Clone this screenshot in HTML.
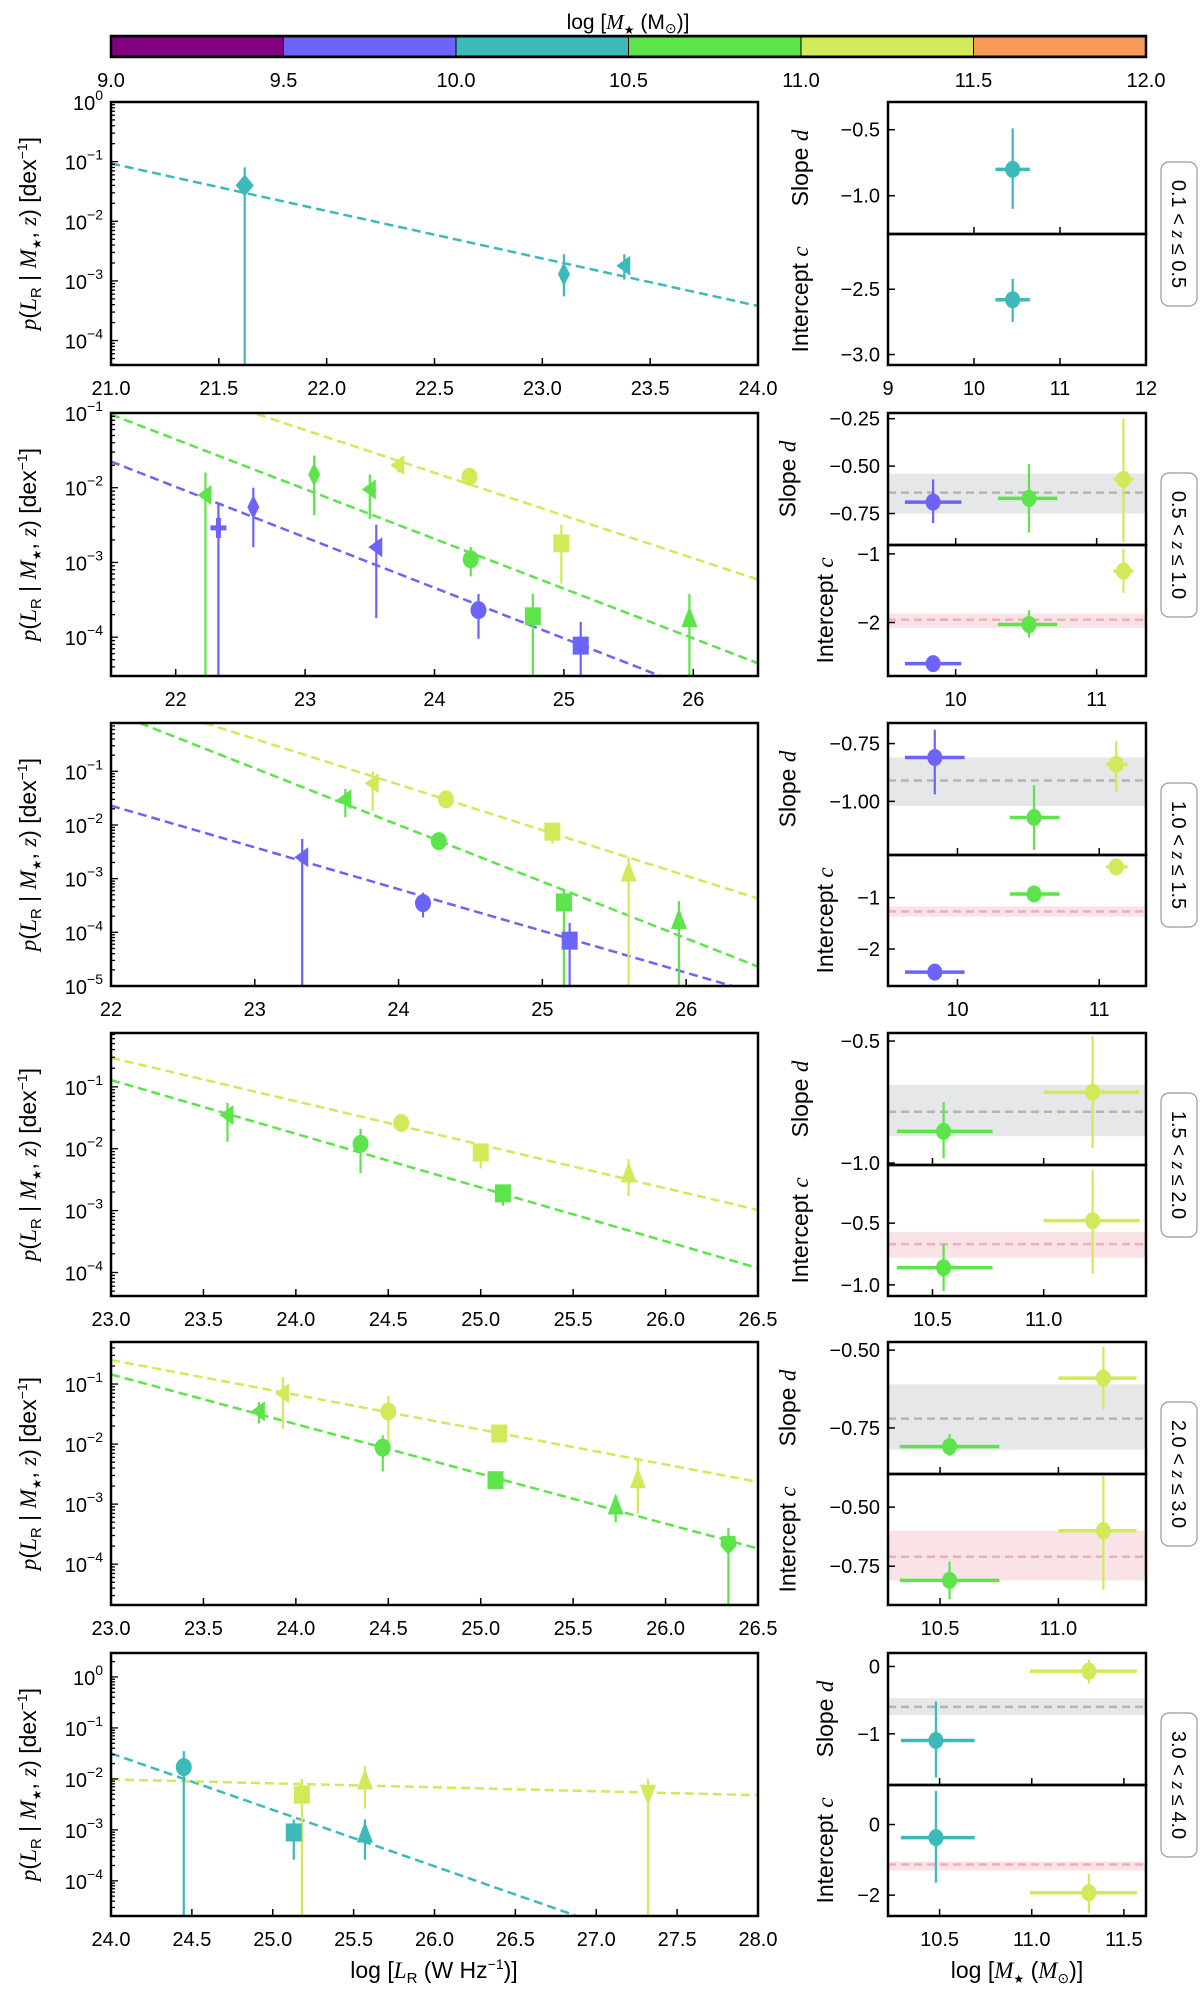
<!DOCTYPE html>
<html><head><meta charset="utf-8"><style>
html,body{margin:0;padding:0;background:#fff;}
svg{display:block;font-family:"Liberation Sans",sans-serif;}
</style></head><body>
<svg id="fig" width="1200" height="2002" viewBox="0 0 1200 2002" xmlns="http://www.w3.org/2000/svg"></svg>
<script>
// ---- mass bins ----
const binEdges = [9.0, 9.5, 10.0, 10.5, 11.0, 11.5, 12.0];
const binColors = ["#800080", "#6c63f8", "#3cb9b9", "#5ce44a", "#d0ea5a", "#f79a5c"];
const zLabels = ["0.1", "0.5", "1.0", "1.5", "2.0", "3.0", "4.0"];

// ---- left panels: points (p values, dex^-1) ----
const ptLR = [
 [21.62, 23.10, 23.38],
 [22.23, 22.33, 22.60, 23.07, 23.50, 23.72, 23.55, 24.27, 24.28, 24.34, 24.98, 24.76, 25.13, 25.97],
 [23.63, 23.82, 24.33, 24.28, 25.07, 23.33, 24.17, 25.15, 25.19, 25.60, 25.95],
 [23.63, 24.35, 24.57, 25.00, 25.12, 25.80],
 [23.80, 23.93, 24.50, 24.47, 25.10, 25.08, 25.73, 25.85, 26.34],
 [24.45, 25.18, 25.13, 25.57, 25.57, 27.32]
];
const ptP = [
 [0.04, 1.3e-3, 1.8e-3],
 [8e-3, 2.9e-3, 5.5e-3, 1.5e-2, 9.5e-3, 2e-2, 1.6e-3, 1.4e-2, 1.1e-3, 2.3e-4, 1.8e-3, 1.9e-4, 7.7e-5, 1.8e-4],
 [0.03, 0.06, 0.03, 5e-3, 7.5e-3, 2.5e-3, 3.5e-4, 3.6e-4, 7e-5, 1.3e-3, 1.7e-4],
 [0.035, 0.012, 0.026, 8.7e-3, 1.9e-3, 4e-3],
 [0.035, 0.07, 0.035, 8.7e-3, 0.015, 2.5e-3, 9.5e-4, 2.6e-3, 2.1e-4],
 [0.017, 4.9e-3, 8.9e-4, 9.3e-3, 8.5e-4, 5.1e-3]
];
const ptHi = [
 [0.08, 2.8e-3, 2.8e-3],
 [1.6e-2, 6e-3, 1e-2, 2.7e-2, 1.5e-2, 2.3e-2, 3.2e-3, 1.6e-2, 1.6e-3, 3.8e-4, 3.2e-3, 3.8e-4, 1.6e-4, 3.8e-4],
 [0.047, 0.1, 0.035, 6e-3, 1e-2, 5.5e-3, 5.5e-4, 6e-4, 1.5e-4, 2.5e-3, 3.8e-4],
 [0.055, 0.021, 0.03, 9.5e-3, 2.1e-3, 6.8e-3],
 [0.05, 0.13, 0.063, 0.014, 0.017, 2.8e-3, 1.4e-3, 6e-3, 4e-4],
 [0.035, 0.01, 1.6e-3, 0.018, 1.6e-3, 0.01]
];
const ptLo = [
 [1e-9, 5.5e-4, 1.05e-3],
 [1e-9, 1e-9, 1.6e-3, 4.3e-3, 3.8e-3, 1.6e-2, 1.8e-4, 1.2e-2, 6.5e-4, 9.5e-5, 5.2e-4, 1e-9, 1e-9, 1e-9],
 [0.014, 0.018, 0.025, 4.5e-3, 4.5e-3, 1e-9, 1.9e-4, 1e-9, 1e-9, 1e-9, 1e-9],
 [0.013, 0.004, 0.022, 4.8e-3, 1.2e-3, 1.7e-3],
 [0.022, 0.018, 0.011, 3.5e-3, 0.011, 1.8e-3, 5e-4, 7e-4, 1e-9],
 [1e-9, 1e-9, 2.6e-4, 2.6e-3, 2.6e-4, 1e-9]
];
const ptBin = [
 [2, 2, 2],
 [3, 1, 1, 3, 3, 4, 1, 4, 3, 1, 4, 3, 1, 3],
 [3, 4, 4, 3, 4, 1, 1, 3, 1, 4, 3],
 [3, 3, 4, 4, 3, 4],
 [3, 4, 4, 3, 4, 3, 3, 4, 3],
 [2, 4, 2, 4, 2, 4]
];
const ptShape = [
 ["diamond", "thin", "left"],
 ["left", "plus", "thin", "thin", "left", "left", "left", "circle", "circle", "circle", "square", "square", "square", "up"],
 ["left", "left", "circle", "circle", "square", "left", "circle", "square", "square", "up", "up"],
 ["left", "circle", "circle", "square", "square", "up"],
 ["left", "left", "circle", "circle", "square", "square", "up", "up", "pent"],
 ["circle", "square", "square", "up", "up", "down"]
];
// fit lines: start/end (LR, log p)
const fitStartLR = [[21], [21.5, 21.5, 21.5], [22.65, 22.2, 22], [23, 23], [23, 23], [24, 24]];
const fitStartLogP = [[-1.03], [-0.37, -1.02, -1.65], [-0.10, -0.10, -1.64], [-0.53, -0.89], [-0.60, -0.84], [-1.5, -2.01]];
const fitEndLR = [[24], [26.5, 26.5, 26.5], [26.5, 26.5, 26.5], [26.5, 26.5], [26.5, 26.5], [28, 28]];
const fitEndLogP = [[-3.42], [-3.23, -4.35, -5.03], [-3.37, -4.64, -5.14], [-2.99, -3.93], [-2.63, -3.74], [-5.93, -2.32]];
const fitBin = [[2], [4, 3, 1], [4, 3, 1], [4, 3], [4, 3], [2, 4]];

// ---- left axes ----
const lrRange = [[21, 24], [21.5, 26.5], [22, 26.5], [23, 26.5], [23, 26.5], [24, 28]];
const logPRange = [[-4.41, 0], [-4.52, -1], [-5, -0.1], [-4.38, -0.13], [-4.68, -0.30], [-4.69, 0.47]];
const lrTicks = [
 ["21.0", "21.5", "22.0", "22.5", "23.0", "23.5", "24.0"],
 ["22", "23", "24", "25", "26"],
 ["22", "23", "24", "25", "26"],
 ["23.0", "23.5", "24.0", "24.5", "25.0", "25.5", "26.0", "26.5"],
 ["23.0", "23.5", "24.0", "24.5", "25.0", "25.5", "26.0", "26.5"],
 ["24.0", "24.5", "25.0", "25.5", "26.0", "26.5", "27.0", "27.5", "28.0"]
];

// ---- right panels ----
const mStar = [[10.45], [9.84, 10.52, 11.19], [9.84, 10.54, 11.12], [10.55, 11.22], [10.54, 11.19], [10.48, 11.31]];
const mStarLo = [[10.25], [9.64, 10.30, 11.12], [9.63, 10.37, 11.05], [10.34, 11.0], [10.33, 11.0], [10.29, 10.99]];
const mStarHi = [[10.65], [10.04, 10.72, 11.26], [10.05, 10.72, 11.20], [10.77, 11.43], [10.75, 11.33], [10.69, 11.57]];
const mBin = [[2], [1, 3, 4], [1, 3, 4], [3, 4], [3, 4], [2, 4]];
const slopeD = [[-0.80], [-0.69, -0.67, -0.57], [-0.81, -1.07, -0.84], [-0.87, -0.71], [-0.81, -0.59], [-1.10, -0.07]];
const slopeHi = [[-0.49], [-0.57, -0.49, -0.25], [-0.69, -0.93, -0.74], [-0.75, -0.48], [-0.77, -0.49], [-0.52, 0.10]];
const slopeLo = [[-1.10], [-0.80, -0.85, -0.90], [-0.97, -1.21, -0.96], [-0.98, -0.94], [-0.84, -0.69], [-1.65, -0.25]];
const icptC = [[-2.58], [-2.60, -2.03, -1.25], [-2.45, -0.93, -0.40], [-0.86, -0.48], [-0.81, -0.60], [-0.37, -1.93]];
const icptHi = [[-2.42], [-2.52, -1.82, -0.93], [-2.35, -0.80, -0.30], [-0.67, -0.07], [-0.73, -0.36], [0.95, -1.40]];
const icptLo = [[-2.75], [-2.68, -2.22, -1.57], [-2.55, -1.05, -0.50], [-1.05, -0.91], [-0.89, -0.85], [-1.65, -2.50]];
const slopeBand = [null, [-0.75, -0.64, -0.54], [-1.02, -0.91, -0.81], [-0.89, -0.79, -0.68], [-0.82, -0.72, -0.61], [-0.72, -0.60, -0.47]];
const icptBand = [null, [-2.08, -1.96, -1.87], [-1.37, -1.27, -1.17], [-0.78, -0.67, -0.57], [-0.81, -0.71, -0.60], [-1.30, -1.13, -1.05]];
const mRange = [[9, 12], [9.52, 11.35], [9.51, 11.33], [10.3, 11.46], [10.28, 11.37], [10.22, 11.62]];
const mTicks = [["9", "10", "11", "12"], ["10", "11"], ["10", "11"], ["10.5", "11.0"], ["10.5", "11.0"], ["10.5", "11.0", "11.5"]];
const slopeRange = [[-1.29, -0.29], [-0.916, -0.22], [-1.232, -0.661], [-1.008, -0.467], [-0.898, -0.474], [-1.76, 0.2]];
const slopeTicks = [["−0.5", "−1.0"], ["−0.25", "−0.50", "−0.75"], ["−0.75", "−1.00"], ["−0.5", "−1.0"], ["−0.50", "−0.75"], ["0", "−1"]];
const icptRange = [[-3.08, -2.077], [-2.78, -0.87], [-2.72, -0.17], [-1.09, -0.029], [-0.914, -0.36], [-2.59, 1.12]];
const icptTicks = [["−2.5", "−3.0"], ["−1", "−2"], ["−1", "−2"], ["−0.5", "−1.0"], ["−0.50", "−0.75"], ["0", "−2"]];

// ---- layout ----
const svg = document.getElementById('fig');
const NS = "http://www.w3.org/2000/svg";
const rowTop = [102, 413, 723, 1033, 1342, 1653];
const PH = 263, LX0 = 111, LX1 = 758, RX0 = 888, RX1 = 1146;
const STAR = '<tspan font-family="DejaVu Sans" font-size="12" dy="5">★</tspan>';

function mk(tag, attrs, parent) {
  const e = document.createElementNS(NS, tag);
  for (const k in attrs) e.setAttribute(k, attrs[k]);
  (parent || svg).appendChild(e);
  return e;
}
function num(s) { return parseFloat(s.replace('−', '-')); }
function lin(v, d0, d1, p0, p1) { return p0 + (v - d0) / (d1 - d0) * (p1 - p0); }

function marker(g, shape, cx, cy, col) {
  let e;
  const r = 8;
  if (shape === "circle") e = mk('ellipse', {cx: cx, cy: cy, rx: r, ry: r + 1, fill: col}, g);
  else if (shape === "square") e = mk('rect', {x: cx - r, y: cy - r - 1, width: 2 * r, height: 2 * r + 2, fill: col}, g);
  else if (shape === "diamond") e = mk('polygon', {points: `${cx},${cy - 11} ${cx + 9},${cy} ${cx},${cy + 11} ${cx - 9},${cy}`, fill: col}, g);
  else if (shape === "thin") e = mk('polygon', {points: `${cx},${cy - 12} ${cx + 6},${cy} ${cx},${cy + 12} ${cx - 6},${cy}`, fill: col}, g);
  else if (shape === "left") e = mk('polygon', {points: `${cx - 8},${cy} ${cx + 6},${cy - 10} ${cx + 6},${cy + 10}`, fill: col}, g);
  else if (shape === "up") e = mk('polygon', {points: `${cx},${cy - 12} ${cx + 8},${cy + 9} ${cx - 8},${cy + 9}`, fill: col}, g);
  else if (shape === "down") e = mk('polygon', {points: `${cx},${cy + 12} ${cx + 8},${cy - 9} ${cx - 8},${cy - 9}`, fill: col}, g);
  else if (shape === "pent") e = mk('polygon', {points: `${cx},${cy + 10} ${cx + 8},${cy + 1} ${cx + 7},${cy - 9} ${cx - 7},${cy - 9} ${cx - 8},${cy + 1}`, fill: col}, g);
  else { e = mk('path', {d: `M${cx - 8},${cy}H${cx + 8}M${cx},${cy - 10}V${cy + 10}`, stroke: col, 'stroke-width': 5}, g); }
  return e;
}

// ---- colorbar ----
const cb = mk('g', {});


const cbt = mk('text', {x: 628, y: 29, 'text-anchor': 'middle', 'font-size': 21}, cb);
cbt.innerHTML = 'log [<tspan font-family="Liberation Serif" font-style="italic">M</tspan>' + STAR + '<tspan dy="-5"> (M</tspan><tspan font-size="14" dy="4">⊙</tspan><tspan dy="-4">)]</tspan>';


for (let i = 0; i < binColors.length; i++) {
  const x0 = lin(binEdges[i], 9, 12, LX0, RX1), x1 = lin(binEdges[i + 1], 9, 12, LX0, RX1);
  const s = mk('rect', {x: x0, y: 37, width: x1 - x0, height: 19, fill: binColors[i], stroke: '#000', 'stroke-width': 1}, cb);
  
  
}
mk('rect', {x: LX0, y: 36, width: RX1 - LX0, height: 21, fill: 'none', stroke: '#000', 'stroke-width': 2.5}, cb);
for (let i = 0; i < binEdges.length; i++) {
  const t = mk('text', {x: lin(binEdges[i], 9, 12, LX0, RX1), y: 87, 'text-anchor': 'middle', 'font-size': 20}, cb);
  t.textContent = binEdges[i].toFixed(1);
  
  
}

// ---- rows ----
for (let r = 0; r < 6; r++) {
  const top = rowTop[r], bot = top + PH;
  const [xa, xb] = lrRange[r], [ya, yb] = logPRange[r];
  const X = v => lin(v, xa, xb, LX0, LX1);
  const Y = v => lin(v, ya, yb, bot, top);
  const g = mk('g', {});
  
  
  const cid = 'clipL' + r;
  const cp = mk('clipPath', {id: cid}, g);
  mk('rect', {x: LX0, y: top, width: LX1 - LX0, height: PH}, cp);
  const pg = mk('g', {'clip-path': `url(#${cid})`}, g);
  for (let k = 0; k < fitBin[r].length; k++) {
    const ln = mk('line', {x1: X(fitStartLR[r][k]), y1: Y(fitStartLogP[r][k]), x2: X(fitEndLR[r][k]), y2: Y(fitEndLogP[r][k]),
      stroke: binColors[fitBin[r][k]], 'stroke-width': 2.5, 'stroke-dasharray': '9,5'}, pg);
    
    
  }
  for (let k = 0; k < ptLR[r].length; k++) {
    const col = binColors[ptBin[r][k]];
    const cx = X(ptLR[r][k]), cy = Y(Math.log10(ptP[r][k]));
    const eb = mk('line', {x1: cx, x2: cx, y1: Y(Math.log10(ptHi[r][k])), y2: Math.min(bot + 5, Y(Math.log10(ptLo[r][k]))), stroke: col, 'stroke-width': 2.2}, pg);
    
    
    const m = marker(pg, ptShape[r][k], cx, cy, col);
    
    
  }
  mk('rect', {x: LX0, y: top, width: LX1 - LX0, height: PH, fill: 'none', stroke: '#000', 'stroke-width': 2.5}, g);
  for (const lab of lrTicks[r]) {
    const x = X(num(lab));
    if (x > LX0 + 2 && x < LX1 - 2) mk('line', {x1: x, x2: x, y1: bot, y2: bot - 7, stroke: '#000', 'stroke-width': 1.5}, g);
    const t = mk('text', {x: x, y: bot + 30, 'text-anchor': 'middle', 'font-size': 20}, g);
    t.textContent = lab;
    
    
  }
  for (let d = Math.floor(yb); d >= Math.ceil(ya) - 1; d--) {
    for (let m = 1; m <= 9; m++) {
      const v = d + Math.log10(m);
      if (v < ya || v > yb) continue;
      const y = Y(v);
      mk('line', {x1: LX0, x2: LX0 + (m === 1 ? 7 : 4), y1: y, y2: y, stroke: '#000', 'stroke-width': 1.3}, g);
      if (m === 1) {
        const t = mk('text', {x: LX0 - 8, y: y + 8, 'text-anchor': 'end', 'font-size': 20}, g);
        t.innerHTML = '10<tspan font-size="14" dy="-10">' + (d < 0 ? '−' + (-d) : d) + '</tspan>';
        
        
      }
    }
  }
  const yl = mk('text', {x: 0, y: 0, transform: `translate(36,${top + PH / 2}) rotate(-90)`, 'text-anchor': 'middle', 'font-size': 23}, g);
  yl.innerHTML = '<tspan font-family="Liberation Serif" font-style="italic">p</tspan>(<tspan font-family="Liberation Serif" font-style="italic">L</tspan><tspan font-size="15" dy="5">R</tspan><tspan dy="-5"> | </tspan><tspan font-family="Liberation Serif" font-style="italic">M</tspan>' + STAR + '<tspan dy="-5">, </tspan><tspan font-family="Liberation Serif" font-style="italic">z</tspan>) [dex<tspan font-size="14" dy="-9">−1</tspan><tspan dy="9">]</tspan>';
  
  

  // ---- right panels ----
  const split = top + 132;
  const MX = v => lin(v, mRange[r][0], mRange[r][1], RX0, RX1);
  const sub = [
    {y0: top, y1: split, rng: slopeRange[r], ticks: slopeTicks[r], val: slopeD[r], hi: slopeHi[r], lo: slopeLo[r], band: slopeBand[r], bandCol: '#e6e7e9', midCol: '#b4b4b4', name: 'slope', lab: 'Slope <tspan font-family="Liberation Serif" font-style="italic">d</tspan>'},
    {y0: split, y1: bot, rng: icptRange[r], ticks: icptTicks[r], val: icptC[r], hi: icptHi[r], lo: icptLo[r], band: icptBand[r], bandCol: '#fae3e6', midCol: '#efadb8', name: 'intercept', lab: 'Intercept <tspan font-family="Liberation Serif" font-style="italic">c</tspan>'}
  ];
  for (const s of sub) {
    const sg = mk('g', {}, g);
    
    
    const SY = v => lin(v, s.rng[0], s.rng[1], s.y1, s.y0);
    if (s.band) {
      const b = mk('rect', {x: RX0, y: SY(s.band[2]), width: RX1 - RX0, height: SY(s.band[0]) - SY(s.band[2]), fill: s.bandCol}, sg);
      
      
      const ml = mk('line', {x1: RX0, x2: RX1, y1: SY(s.band[1]), y2: SY(s.band[1]), stroke: s.midCol, 'stroke-width': 2.5, 'stroke-dasharray': '8,5'}, sg);
      
      
    }
    for (let k = 0; k < s.val.length; k++) {
      const col = binColors[mBin[r][k]];
      const cx = MX(mStar[r][k]), cy = SY(s.val[k]);
      const h = mk('line', {x1: MX(mStarLo[r][k]), x2: MX(mStarHi[r][k]), y1: cy, y2: cy, stroke: col, 'stroke-width': 3.5}, sg);
      
      
      const v = mk('line', {x1: cx, x2: cx, y1: SY(s.hi[k]), y2: SY(s.lo[k]), stroke: col, 'stroke-width': 2.2}, sg);
      
      
      const c = mk('ellipse', {cx: cx, cy: cy, rx: 7.5, ry: 8.5, fill: col}, sg);
      
      
    }
    mk('rect', {x: RX0, y: s.y0, width: RX1 - RX0, height: s.y1 - s.y0, fill: 'none', stroke: '#000', 'stroke-width': 2.5}, sg);
    let maxc = 0;
    for (const lab of s.ticks) {
      const y = SY(num(lab));
      mk('line', {x1: RX0, x2: RX0 + 7, y1: y, y2: y, stroke: '#000', 'stroke-width': 1.5}, sg);
      const t = mk('text', {x: RX0 - 8, y: y + 7, 'text-anchor': 'end', 'font-size': 20}, sg);
      t.textContent = lab;
      
      
      maxc = Math.max(maxc, lab.length);
    }
    for (const lab of mTicks[r]) {
      const x = MX(num(lab));
      if (x > RX0 + 2 && x < RX1 - 2) mk('line', {x1: x, x2: x, y1: s.y1, y2: s.y1 - 7, stroke: '#000', 'stroke-width': 1.5}, sg);
    }
    const lx = RX0 - 10 - maxc * 12.5 - 20;
    const al = mk('text', {x: 0, y: 0, transform: `translate(${lx},${(s.y0 + s.y1) / 2}) rotate(-90)`, 'text-anchor': 'middle', 'font-size': 23}, sg);
    al.innerHTML = s.lab;
    
    
  }
  for (const lab of mTicks[r]) {
    const t = mk('text', {x: MX(num(lab)), y: bot + 30, 'text-anchor': 'middle', 'font-size': 20}, g);
    t.textContent = lab;
    
    
  }
  const zb = mk('g', {transform: `translate(1179,${split}) rotate(90)`}, g);
  
  
  mk('rect', {x: -72, y: -18, width: 144, height: 36, rx: 8, fill: '#fff', stroke: '#999', 'stroke-width': 1.2}, zb);
  const zt = mk('text', {x: 0, y: 7, 'text-anchor': 'middle', 'font-size': 20}, zb);
  zt.innerHTML = zLabels[r] + ' &lt; <tspan font-family="Liberation Serif" font-style="italic">z</tspan> ≤ ' + zLabels[r + 1];
}

const bx = mk('text', {x: 434, y: 1978, 'text-anchor': 'middle', 'font-size': 23});
bx.innerHTML = 'log [<tspan font-family="Liberation Serif" font-style="italic">L</tspan><tspan font-size="15" dy="5">R</tspan><tspan dy="-5"> (W Hz</tspan><tspan font-size="14" dy="-9">−1</tspan><tspan dy="9">)]</tspan>';


const mx = mk('text', {x: 1017, y: 1978, 'text-anchor': 'middle', 'font-size': 23});
mx.innerHTML = 'log [<tspan font-family="Liberation Serif" font-style="italic">M</tspan>' + STAR + '<tspan dy="-5"> (</tspan><tspan font-family="Liberation Serif" font-style="italic">M</tspan><tspan font-size="14" dy="5">⊙</tspan><tspan dy="-5">)]</tspan>';


</script>
</body></html>
